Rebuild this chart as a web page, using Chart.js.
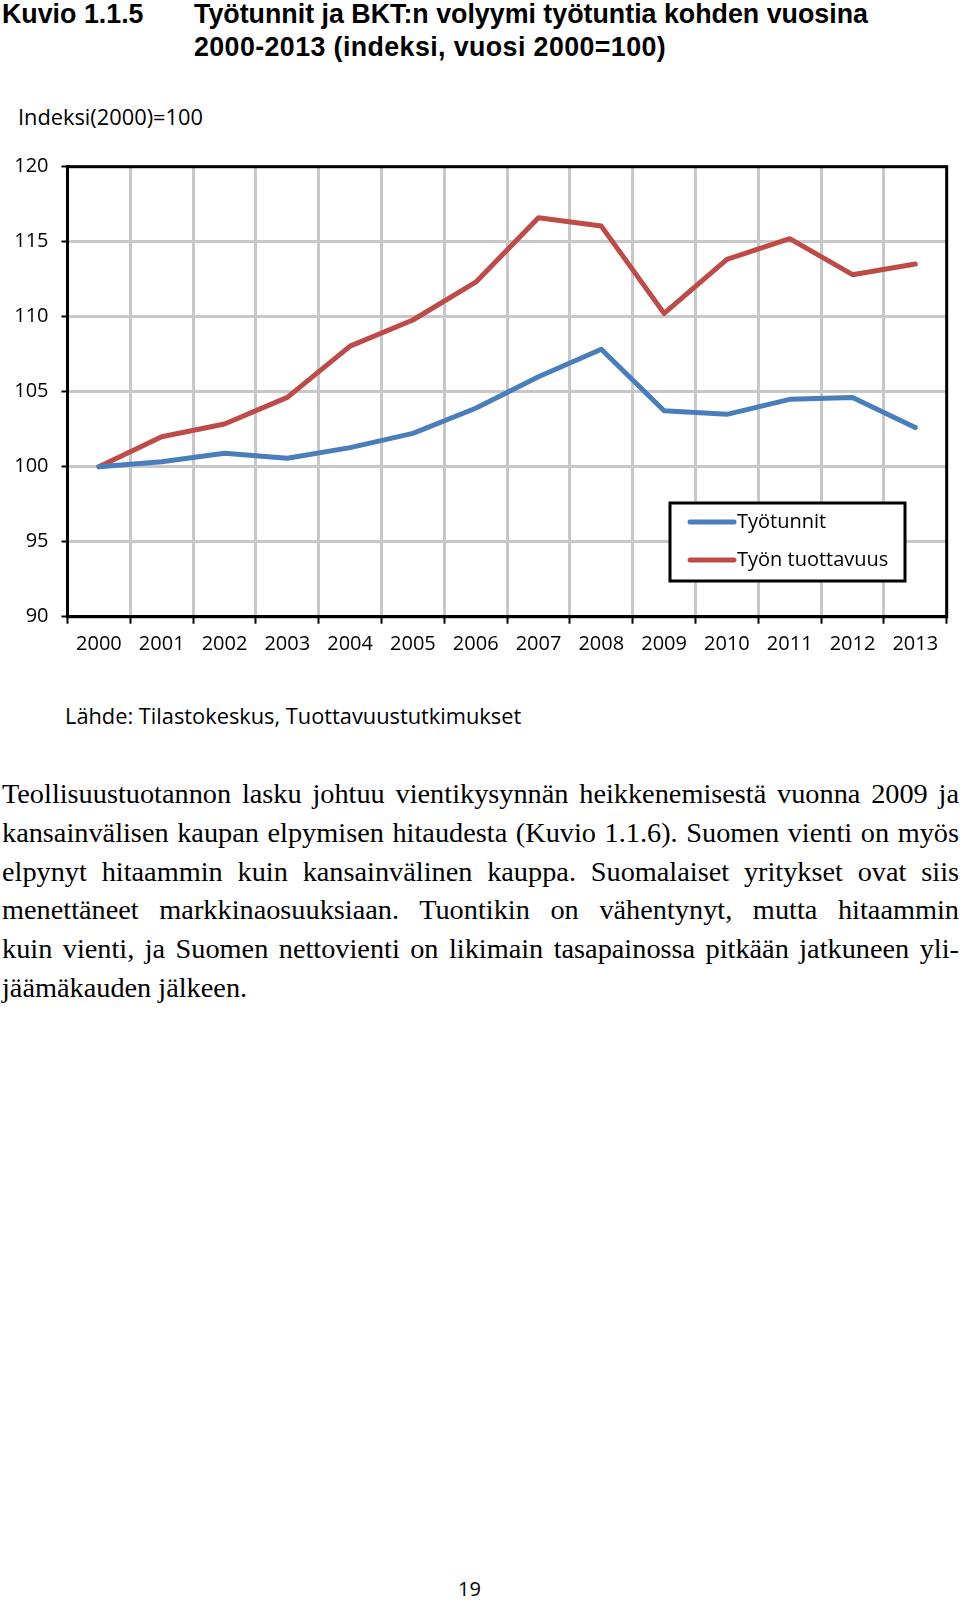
<!DOCTYPE html>
<html>
<head>
<meta charset="utf-8">
<script src="https://cdn.jsdelivr.net/npm/chart.js@4/dist/chart.umd.min.js"></script>
<style>
  html, body { margin: 0; padding: 0; background: #fff; }
  body { width: 960px; height: 1600px; position: relative; overflow: hidden; }
  .t { position: absolute; white-space: nowrap; color: #000; }
  .title { font-family: "Liberation Sans", Arial, sans-serif; font-weight: bold; font-size: 26.8px; line-height: 32px; }
  .lab { font-family: "Open Sans", sans-serif; font-size: 21.8px; line-height: 30px; }
  .body { position: absolute; left: 2px; width: 957px; top: 775px; font-family: "Liberation Serif", serif; font-size: 28.3px; line-height: 38.8px; color: #000; }
  .body div { text-align: justify; text-align-last: justify; white-space: nowrap; }
  .body div.last { text-align-last: left; }
  #wrap { position: absolute; left: 0; top: 140px; width: 960px; height: 540px; }
</style>
</head>
<body>
<div class="t title" style="left:2px; top:-2px;">Kuvio 1.1.5</div>
<div class="t title" style="left:194px; top:-2px;">Työtunnit ja BKT:n volyymi työtuntia kohden vuosina</div>
<div class="t title" style="left:194px; top:31px; letter-spacing:0.4px;">2000-2013 (indeksi, vuosi 2000=100)</div>
<div class="t lab" style="left:18px; top:102px;">Indeksi(2000)=100</div>
<div id="wrap"><canvas id="c"></canvas></div>
<div class="t lab" style="left:65px; top:701px;">Lähde: Tilastokeskus, Tuottavuustutkimukset</div>
<div class="body">
  <div>Teollisuustuotannon lasku johtuu vientikysynnän heikkenemisestä vuonna 2009 ja</div>
  <div>kansainvälisen kaupan elpymisen hitaudesta (Kuvio 1.1.6). Suomen vienti on myös</div>
  <div>elpynyt hitaammin kuin kansainvälinen kauppa. Suomalaiset yritykset ovat siis</div>
  <div>menettäneet markkinaosuuksiaan. Tuontikin on vähentynyt, mutta hitaammin</div>
  <div>kuin vienti, ja Suomen nettovienti on likimain tasapainossa pitkään jatkuneen yli-</div>
  <div class="last">jäämäkauden jälkeen.</div>
</div>
<div class="t lab" style="left:458px; top:1574px; font-size:20px;">19</div>
<script>
const years = ["2000","2001","2002","2003","2004","2005","2006","2007","2008","2009","2010","2011","2012","2013"];
const tyotunnit = [100, 100.33, 100.89, 100.56, 101.27, 102.22, 103.9, 106.0, 107.83, 103.73, 103.49, 104.49, 104.62, 102.62];
const tuottavuus = [100, 102.0, 102.85, 104.62, 108.04, 109.78, 112.3, 116.6, 116.04, 110.22, 113.82, 115.2, 112.8, 113.51];
const seriesNames = ["Työtunnit", "Työn tuottavuus"];
const seriesColors = ["#4A7EBB", "#BE4B48"];
const yMin = 90, yMax = 120, yStep = 5;

const frameAndLegend = {
  id: 'frameAndLegend',
  afterDraw(chart) {
    const ctx = chart.ctx, a = chart.chartArea;
    ctx.save();
    ctx.strokeStyle = '#000';
    ctx.lineWidth = 3;
    ctx.strokeRect(a.left, a.top, a.right - a.left, a.bottom - a.top);
    const bx = 670, by = 363, bw = 235, bh = 78;
    ctx.fillStyle = '#fff';
    ctx.fillRect(bx, by, bw, bh);
    ctx.strokeRect(bx, by, bw, bh);
    ctx.font = '20px "Open Sans"';
    ctx.textBaseline = 'middle';
    ctx.textAlign = 'left';
    chart.data.datasets.forEach((ds, i) => {
      const y = by + 19 + i * 38;
      ctx.strokeStyle = ds.borderColor;
      ctx.lineWidth = 5;
      ctx.lineCap = 'round';
      ctx.beginPath();
      ctx.moveTo(690, y);
      ctx.lineTo(734, y);
      ctx.stroke();
      ctx.fillStyle = '#000';
      ctx.fillText(ds.label, 737, y);
    });
    ctx.restore();
  }
};

Chart.defaults.font.family = '"Open Sans", sans-serif';
Chart.defaults.color = '#000';

new Chart(document.getElementById('c'), {
  type: 'line',
  data: {
    labels: years,
    datasets: [
      { label: seriesNames[0], data: tyotunnit, borderColor: seriesColors[0], backgroundColor: seriesColors[0] },
      { label: seriesNames[1], data: tuottavuus, borderColor: seriesColors[1], backgroundColor: seriesColors[1] }
    ]
  },
  options: {
    responsive: true,
    maintainAspectRatio: false,
    animation: false,
    layout: { padding: { top: 26.7, right: 13.3, left: 0, bottom: 0 } },
    elements: {
      line: { borderWidth: 5, tension: 0, borderCapStyle: 'round', borderJoinStyle: 'round' },
      point: { radius: 0, hoverRadius: 0 }
    },
    plugins: { legend: { display: false }, tooltip: { enabled: false } },
    scales: {
      x: {
        type: 'category',
        offset: true,
        grid: { offset: true, color: '#C8C8C8', lineWidth: 3, tickLength: 7, tickColor: '#000', tickWidth: 2 },
        border: { color: '#000', width: 3 },
        ticks: { font: { size: 20 }, padding: 9, maxRotation: 0, autoSkip: false },
        afterFit(s) { s.height = 63.3; }
      },
      y: {
        min: yMin, max: yMax,
        grid: { color: '#C8C8C8', lineWidth: 3, tickLength: 6, tickColor: '#000', tickWidth: 2 },
        border: { color: '#000', width: 3 },
        ticks: { stepSize: yStep, font: { size: 20 }, padding: 13 },
        afterFit(s) { s.width = 67.5; }
      }
    }
  },
  plugins: [frameAndLegend]
});
</script>
</body>
</html>
